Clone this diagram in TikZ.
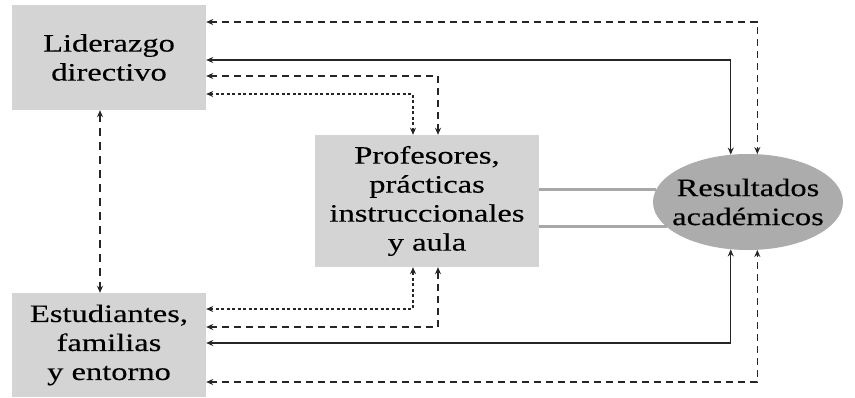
\documentclass[tikz,border=0pt]{standalone}
\usepackage{fontspec}
\setmainfont{Liberation Serif}[FakeStretch=1.3,FakeBold=0.3]
\usetikzlibrary{shapes.geometric,arrows.meta}
\begin{document}
\begin{tikzpicture}[x=1pt,y=-1pt,
  >={Stealth[length=7pt,width=6pt]},
  box/.style={rectangle,fill=boxgray,inner sep=0pt,align=center,font=\fontsize{25}{29}\selectfont},
  ell/.style={ellipse,fill=ellgray,inner sep=0pt,minimum width=190pt,minimum height=96pt},
  lab/.style={align=center,font=\fontsize{25}{29}\selectfont},
  sol/.style={draw=black!85,line width=1.2pt},
  dsh/.style={draw=black!85,line width=1.4pt,dash pattern=on 7pt off 5pt},
  dsh2/.style={draw=black!85,line width=1.4pt,dash pattern=on 8pt off 6pt},
  dot/.style={draw=black!85,line width=1.4pt,dash pattern=on 3pt off 2.5pt},
  gline/.style={draw=linegray,line width=3pt}]
\definecolor{boxgray}{HTML}{D4D4D4}
\definecolor{ellgray}{HTML}{ACACAC}
\definecolor{linegray}{HTML}{A8A8A8}
\useasboundingbox (0,0) rectangle (855,398);
\fill[white] (0,0) rectangle (855,398);
% nodes
\node[box,minimum width=194pt,minimum height=105pt] (ld) at (109,57.5) {Liderazgo\\directivo};
\node[box,minimum width=194pt,minimum height=104pt] (efe) at (109,345) {Estudiantes,\\familias\\y entorno};
\node[box,minimum width=224pt,minimum height=132pt] (prof) at (427,201) {Profesores,\\prácticas\\instruccionales\\y aula};
\node[ell] (res) at (748,202) {};
\node[lab] (reslab) at (res) {Resultados\\académicos};
% routing levels
\coordinate (y1) at (0,22);
\coordinate (y2) at (0,60);
\coordinate (y3) at (0,76);
\coordinate (y4) at (0,94);
\coordinate (y5) at (0,309);
\coordinate (y6) at (0,327);
\coordinate (y7) at (0,343);
\coordinate (y8) at (0,382);
\coordinate (x1) at (413,0);
\coordinate (x2) at (438,0);
\coordinate (xv) at (100,0);
% gray links
\draw[gline] (prof.east |- res.172) -- (res.172);
\draw[gline] (prof.east |- res.197) -- (res.197);
% connectors
\draw[dsh,<->] (ld.east |- y1) -| (res.79);
\draw[sol,<->] (ld.east |- y2) -| (res.110);
\draw[dsh,<->] (ld.east |- y3) -| (prof.north -| x2);
\draw[dot,<->] (ld.east |- y4) -| (prof.north -| x1);
\draw[dsh2,<->] (ld.south -| xv) -- (efe.north -| xv);
\draw[dot,<->] (efe.east |- y5) -| (prof.south -| x1);
\draw[dsh,<->] (efe.east |- y6) -| (prof.south -| x2);
\draw[sol,<->] (efe.east |- y7) -| (res.-110);
\draw[dsh,<->] (efe.east |- y8) -| (res.-79);
\end{tikzpicture}
\end{document}
